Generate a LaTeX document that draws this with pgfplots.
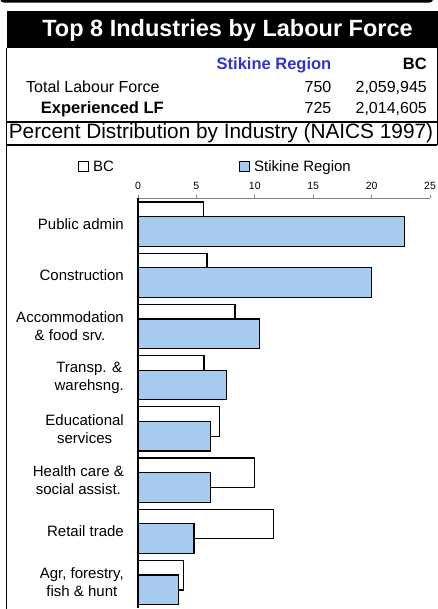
\documentclass[border=0pt]{standalone}
\usepackage{fontspec}
\setmainfont{Liberation Sans}
\usepackage{pgfplots}
\pgfplotsset{compat=1.18}
\definecolor{stikine}{RGB}{166,202,240}
\definecolor{regblue}{RGB}{51,51,204}

\pgfplotsset{
  sq legend/.style={legend image code/.code={%
    \draw[##1, line width=1.2pt] (0pt,-5pt) rectangle (10pt,5pt);
    \path (12pt,0pt);}},
}

\begin{document}
\begin{tikzpicture}
\path[use as bounding box] (0,0) rectangle (438pt,-609pt);

% remnant of the box above
\draw[line width=2.7pt, rounded corners=3pt] (1.35pt,8pt) -- (1.35pt,-1.35pt) -- (432pt,-1.35pt) -- (432pt,8pt);

% title bar
\fill[black] (6.5pt,-11pt) rectangle (438pt,-48.3pt);
\node[anchor=base, inner sep=0pt, text=white, font=\fontsize{23.5}{27}\selectfont\bfseries]
  at (227.5pt,-36.3pt) {Top 8 Industries by Labour Force};

% table frame
\draw[line width=1.4pt] (6.7pt,-48pt) -- (6.7pt,-609pt);
\draw[line width=1.4pt] (437.4pt,-48pt) -- (437.4pt,-145pt);
\draw[line width=1.5pt] (6.7pt,-121.8pt) -- (437.4pt,-121.8pt);
\draw[line width=1.4pt] (6.7pt,-145pt) -- (437.4pt,-145pt);

% table text
\begin{scope}[every node/.style={inner sep=0pt}]
\node[anchor=base east, text=regblue, font=\fontsize{16.5}{19}\selectfont\bfseries] at (331.5pt,-70pt) {Stikine Region};
\node[anchor=base east, font=\fontsize{16.5}{19}\selectfont\bfseries] at (427pt,-70pt) {BC};
\node[anchor=base west, font=\fontsize{16}{19}\selectfont] at (26pt,-92.7pt) {Total Labour Force};
\node[anchor=base east, font=\fontsize{16}{19}\selectfont] at (331.5pt,-92.7pt) {750};
\node[anchor=base east, font=\fontsize{16}{19}\selectfont] at (427pt,-92.7pt) {2,059,945};
\node[anchor=base west, font=\fontsize{16.5}{19}\selectfont\bfseries] at (40.7pt,-113.3pt) {Experienced LF};
\node[anchor=base east, font=\fontsize{16}{19}\selectfont] at (331.5pt,-113.3pt) {725};
\node[anchor=base east, font=\fontsize{16}{19}\selectfont] at (427pt,-113.3pt) {2,014,605};
\node[anchor=base, font=\fontsize{20.8}{24}\selectfont] at (221pt,-139pt) {Percent Distribution by Industry (NAICS 1997)};
\end{scope}

\begin{axis}[
  at={(138pt,-198.5pt)}, anchor=north west,
  scale only axis, width=292pt, height=409.6pt,
  xbar, bar width=29.5pt,
  xmin=0, xmax=25, ymin=-0.5, ymax=7.5,
  enlargelimits=false,
  axis x line*=top, axis y line*=left,
  x axis line style={gray, line width=0.9pt},
  y axis line style={black, line width=1.4pt},
  xtick={0,5,...,25},
  tick align=outside, major tick length=3pt,
  xtick style={gray, line width=0.9pt},
  ytick={0,...,7}, ytick style={draw=none},
  /pgf/number format/assume math mode=true,
  xticklabel style={font=\fontsize{10.5}{12}\selectfont, inner sep=1pt, yshift=5pt},
  yticklabel style={font=\fontsize{15}{18}\selectfont, align=center, inner sep=0pt, xshift=-11pt},
  yticklabels={{Agr, forestry,\\fish \& hunt},
               {Retail trade},
               {Health care \&\\social assist.},
               {Educational\\services},
               {Transp. \&\\warehsng.},
               {Accommodation\\\& food srv.},
               {Construction},
               {Public admin}},
  legend columns=2,
  legend style={at={(-0.2065,1.078)}, anchor=west, draw=none, fill=none,
    inner sep=0pt, font=\fontsize{15}{18}\selectfont,
    /tikz/every even column/.append style={column sep=123pt}},
]
\addplot[sq legend, fill=white, draw=black, line width=1.2pt, bar shift=7.3pt] coordinates {
  (3.9,0) (11.6,1) (9.95,2) (6.95,3) (5.65,4) (8.3,5) (5.9,6) (5.6,7)
};
\addplot[sq legend, fill=stikine, draw=black, line width=1.2pt, bar shift=-7.3pt] coordinates {
  (3.45,0) (4.8,1) (6.2,2) (6.2,3) (7.6,4) (10.4,5) (20.0,6) (22.8,7)
};
\legend{BC, Stikine Region}
\end{axis}
\end{tikzpicture}
\end{document}
